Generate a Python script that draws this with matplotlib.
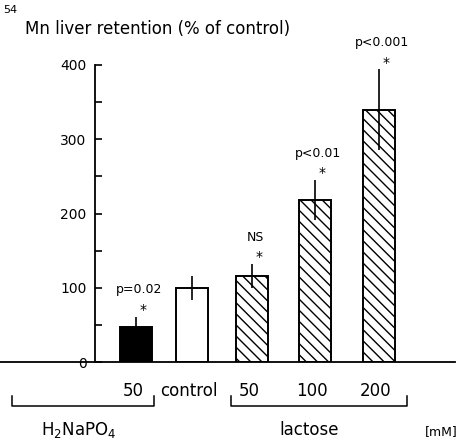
import matplotlib

matplotlib.use("Agg")
import matplotlib.pyplot as plt

# values (% of control)
groups = ["50", "control", "50", "100", "200"]
retention = [47, 100, 116, 218, 340]
err = [14, 16, 16, 27, 54]
notes = ["p=0.02", "", "NS", "p<0.01", "p<0.001"]
stars = [True, False, True, True, True]
faces = ["black", "white", "white", "white", "white"]
hatches = ["", "", "\\\\\\", "\\\\\\", "\\\\\\"]

# layout (bar centres in units of one slot)
xpos = [0, 0.92, 1.91, 2.95, 4.0]
W, H, DPI = 460, 443, 100

plt.rcParams["font.family"] = ["DejaVu Sans"]
plt.rcParams["hatch.linewidth"] = 1.0

fig = plt.figure(figsize=(W / DPI, H / DPI), dpi=DPI)
y0, y400 = 362, 65
ax = fig.add_axes([0, 1 - y0 / H, 455 / W, (y0 - y400) / H])
slot = 60.75
ax.set_xlim(-136 / slot, (455 - 136) / slot)
ax.set_ylim(0, 400)


def px(x):
    # horizontal pixel position -> data units
    return (x - 136) / slot


ax.bar(xpos, retention, width=0.53, color=faces, edgecolor="black",
       hatch=hatches, linewidth=1.4)
ax.errorbar(xpos, retention, yerr=err, fmt="none", ecolor="black",
            elinewidth=1.2, capsize=0)

for x, v, e, note, star in zip(xpos, retention, err, notes, stars):
    top = v + e
    if star:
        ax.text(x + 0.12, top + 9, "*", ha="center", va="center", fontsize=10)
    if note:
        ax.text(x + 0.05, top + 36, note, ha="center", va="center", fontsize=9)

for side in ["top", "right"]:
    ax.spines[side].set_visible(False)
ax.spines["left"].set_position(("data", px(95)))
ax.spines["left"].set_bounds(0, 400)
ax.spines["left"].set_linewidth(1.3)
ax.spines["bottom"].set_linewidth(1.3)
ax.set_yticks([0, 100, 200, 300, 400])
ax.set_yticks([50, 150, 250, 350], minor=True)
ax.tick_params(axis="y", which="both", direction="in", length=5, width=1.2,
               labelsize=10, pad=6)
ax.set_xticks([])

# category labels below the baseline
for x, g in zip(xpos, groups):
    ax.text(x - 0.05, -39, g, ha="center", va="center", fontsize=12,
            clip_on=False)

by, bt = -59, -46
for a, b in [(px(12), px(154)), (px(231), px(407))]:
    ax.plot([a, a, b, b], [bt, by, by, bt], color="black", lw=1.1,
            clip_on=False)
ax.text(px(79), -92, "H$_2$NaPO$_4$", ha="center", va="center",
        fontsize=12, clip_on=False)
ax.text(px(309), -92, "lactose", ha="center", va="center",
        fontsize=12, clip_on=False)
ax.text(px(441), -93, "[mM]", ha="center", va="center",
        fontsize=9, clip_on=False)

fig.text(3 / W, 1 - 10 / H, "54", ha="left", va="center", fontsize=8)
fig.text(25 / W, 1 - 29 / H, "Mn liver retention (% of control)", ha="left",
         va="center", fontsize=12)

fig.savefig("out.png", dpi=DPI)
